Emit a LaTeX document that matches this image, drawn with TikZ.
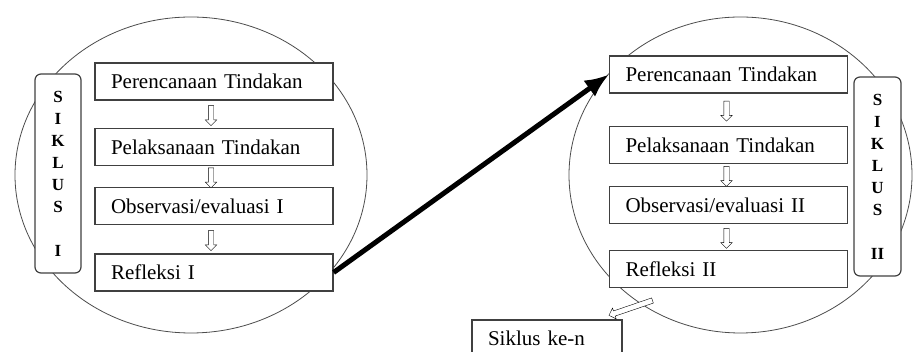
\documentclass[tikz,border=0pt]{standalone}
\usepackage{fontspec}
\setmainfont{Liberation Serif}
\usetikzlibrary{shapes.arrows,calc,arrows.meta}
\tikzset{
  stage/.style={draw, fill=white, line width=1.2pt, draw=black!75,
    minimum width=238pt, minimum height=37pt, text width=206pt,
    inner xsep=16pt, align=left, font=\fontsize{21}{25}\selectfont},
  cyclebox/.style={draw, fill=white, line width=1.2pt, draw=black!75,
    rounded corners=6pt, minimum width=46pt, minimum height=199pt,
    align=center, font=\bfseries\fontsize{17}{22}\selectfont},
  hollow/.style={draw, fill=white, single arrow, inner sep=0pt,
    text height=5pt, text depth=0pt, minimum height=20pt,
    single arrow head extend=3pt, single arrow head indent=0pt}
}
\begin{document}
\begin{tikzpicture}[x=1pt,y=1pt]
    \useasboundingbox (0,0) rectangle (913,352);
    \draw[line width=0.8pt, black!70] (191,177) ellipse [x radius=176, y radius=158];
    \draw[line width=0.8pt, black!70] (740.5,177) ellipse [x radius=171.5, y radius=158];
    % siklus I
    \node[cyclebox] (sa) at (58,178.5) {S\\I\\K\\L\\U\\S\\[22pt]I};
    \node[stage] (pa) at (214,270.5) {Perencanaan Tindakan};
    \node[stage] (la) at (214,205) {Pelaksanaan Tindakan};
    \node[stage] (oa) at (214,146) {Observasi/evaluasi I};
    \node[stage] (ra) at (214,79.5) {Refleksi I};
    \node[hollow, rotate=-90] at ($(pa.south)!0.5!(la.north)+(-3,0)$) {};
    \node[hollow, rotate=-90] at ($(la.south)!0.5!(oa.north)+(-3,0)$) {};
    \node[hollow, rotate=-90] at ($(oa.south)!0.5!(ra.north)+(-3,0)$) {};
    % siklus II
    \node[cyclebox, minimum width=47pt] (sb) at (877.5,175.5) {S\\I\\K\\L\\U\\S\\[22pt]II};
    \node[stage] (pb) at (728.5,277.5) {Perencanaan Tindakan};
    \node[stage] (lb) at (728.5,207) {Pelaksanaan Tindakan};
    \node[stage] (ob) at (728.5,147) {Observasi/evaluasi II};
    \node[stage] (rb) at (728.5,83) {Refleksi II};
    \node[hollow, rotate=-90] at ($(pb.south)!0.5!(lb.north)+(-2,0)$) {};
    \node[hollow, rotate=-90] at ($(lb.south)!0.5!(ob.north)+(-2,0)$) {};
    \node[hollow, rotate=-90] at ($(ob.south)!0.5!(rb.north)+(-2,0)$) {};
    % siklus ke-n
    \node[stage, minimum width=150pt, text width=118pt] (sn) at (547,13.5) {Siklus ke-n};
    \node[hollow, minimum height=46pt, rotate=198.8] at (632,44.5) {};
    \draw[line width=5pt, -{Latex[length=24pt,width=20pt]}] (ra.east) -- (pb.west);
\end{tikzpicture}
\end{document}
